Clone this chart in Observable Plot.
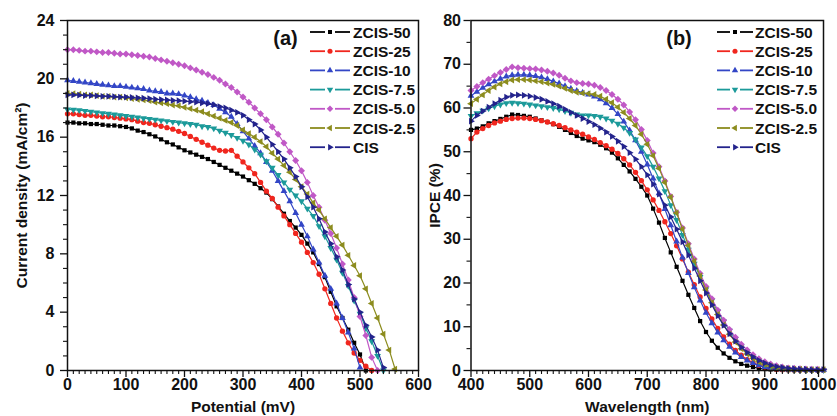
<!DOCTYPE html>
<html>
<head>
<meta charset="utf-8">
<script src="https://cdn.jsdelivr.net/npm/d3@7"></script>
<script src="https://cdn.jsdelivr.net/npm/@observablehq/plot@0.6"></script>
<style>
  html, body { margin: 0; padding: 0; background: #fff; }
  #wrap { position: relative; width: 837px; height: 416px; overflow: hidden; }
  #wrap svg { position: absolute; top: 0; }
</style>
</head>
<body>
<div id="wrap"></div>
<script>
// ---------- data ----------
const seriesNames = ["ZCIS-50", "ZCIS-25", "ZCIS-10", "ZCIS-7.5", "ZCIS-5.0", "ZCIS-2.5", "CIS"];
const seriesColors = ["#000000", "#f0261e", "#3346c6", "#1c9a9a", "#c058c6", "#8c8c1e", "#23238c"];

// Panel (a): J-V curves, potential in mV (10 mV steps)
const potential = [0,10,20,30,40,50,60,70,80,90,100,110,120,130,140,150,160,170,180,190,200,210,220,230,240,250,260,270,280,290,300,310,320,330,340,350,360,370,380,390,400,410,420,430,440,450,460,470,480,490,500,510,520,530,540,550,560];
const jZCIS50 = [17.0,17.0,16.95,16.95,16.9,16.9,16.85,16.8,16.8,16.75,16.7,16.6,16.45,16.35,16.2,16.05,15.85,15.65,15.5,15.3,15.1,14.95,14.8,14.65,14.5,14.3,14.1,13.9,13.7,13.5,13.3,13.05,12.8,12.5,12.2,11.75,11.25,10.75,10.25,9.8,9.3,8.7,8.1,7.3,6.4,5.4,4.4,3.6,2.8,1.9,1.1,0.0];
const jZCIS25 = [17.6,17.6,17.55,17.5,17.5,17.45,17.4,17.4,17.35,17.3,17.25,17.2,17.1,17.0,16.95,16.85,16.75,16.65,16.55,16.4,16.25,16.05,15.85,15.65,15.45,15.25,15.1,15.05,15.1,14.7,14.3,13.9,13.5,12.9,12.3,11.8,11.2,10.6,10.0,9.4,8.8,8.1,7.4,6.6,5.6,4.6,3.6,2.7,1.9,1.2,0.7,0.3,0.0];
const jZCIS10 = [19.9,19.85,19.8,19.75,19.7,19.65,19.6,19.55,19.5,19.5,19.45,19.4,19.35,19.3,19.2,19.15,19.1,19.0,19.0,18.95,18.85,18.75,18.6,18.5,18.35,18.2,17.95,17.7,17.4,16.9,16.4,15.9,15.4,14.9,14.3,13.7,13.0,12.3,11.6,10.8,10.0,9.2,8.3,7.4,6.5,5.6,4.6,3.6,2.6,1.5,0.2];
const jZCIS75 = [17.9,17.88,17.85,17.8,17.75,17.7,17.65,17.6,17.55,17.5,17.45,17.4,17.35,17.3,17.25,17.2,17.15,17.1,17.05,17.0,16.95,16.9,16.85,16.75,16.7,16.6,16.45,16.3,16.15,15.95,15.75,15.5,15.15,14.8,14.35,13.9,13.4,12.9,12.4,12.0,11.6,11.1,10.6,9.9,9.2,8.4,7.6,6.7,5.8,4.8,3.9,2.9,2.0,1.0,0.0];
const jZCIS50b = [22.0,22.0,21.95,21.9,21.9,21.85,21.8,21.8,21.75,21.7,21.7,21.65,21.6,21.55,21.5,21.4,21.3,21.2,21.1,21.0,20.9,20.75,20.6,20.45,20.3,20.1,19.9,19.65,19.4,19.1,18.75,18.4,18.0,17.6,17.2,16.7,16.2,15.6,15.0,14.4,13.7,12.9,12.0,11.2,10.3,9.4,8.4,7.3,6.2,5.0,3.7,2.4,0.9,0.0];
const jZCIS25b = [19.0,18.98,18.95,18.9,18.9,18.85,18.8,18.8,18.75,18.75,18.7,18.65,18.6,18.55,18.5,18.4,18.35,18.3,18.2,18.15,18.05,17.95,17.85,17.75,17.6,17.45,17.3,17.15,17.0,16.8,16.5,16.25,16.0,15.7,15.35,14.9,14.5,14.05,13.6,13.1,12.6,12.1,11.5,11.0,10.4,9.8,9.2,8.6,7.9,7.2,6.5,5.6,4.6,3.6,2.5,1.4,0.1];
const jCIS = [18.9,18.9,18.88,18.85,18.85,18.83,18.8,18.8,18.78,18.75,18.75,18.72,18.7,18.67,18.65,18.6,18.58,18.55,18.52,18.5,18.47,18.43,18.4,18.35,18.3,18.22,18.1,18.0,17.85,17.7,17.5,17.2,16.9,16.5,16.0,15.5,15.0,14.5,13.9,13.3,12.6,11.9,11.2,10.4,9.5,8.7,7.8,6.9,5.9,4.9,4.0,3.1,2.3,1.4,0.2];
const jvSeries = [jZCIS50, jZCIS25, jZCIS10, jZCIS75, jZCIS50b, jZCIS25b, jCIS];

// Panel (b): IPCE (%), wavelength in nm (10 nm steps)
const wavelength = [400,410,420,430,440,450,460,470,480,490,500,510,520,530,540,550,560,570,580,590,600,610,620,630,640,650,660,670,680,690,700,710,720,730,740,750,760,770,780,790,800,810,820,830,840,850,860,870,880,890,900,910,920,930,940,950,960,970,980,990,1000];
const qZCIS50 = [55.0,55.3,55.8,56.5,57.0,57.5,58.0,58.5,58.4,58.2,58.0,57.6,57.2,56.8,56.3,55.7,55.0,54.3,53.6,53.0,52.6,52.2,51.6,50.8,49.8,48.5,47.0,45.5,43.8,42.0,40.0,37.0,33.8,30.3,27.0,23.7,20.5,17.3,14.3,11.3,8.8,6.8,5.2,3.9,2.9,2.1,1.5,1.1,0.8,0.5,0.35,0.25,0.2,0.15,0.1,0.1,0.1,0.1,0.1,0.1,0.1];
const qZCIS25 = [53.0,54.5,55.3,56.0,56.6,57.0,57.4,57.6,57.7,57.7,57.6,57.4,57.1,56.8,56.4,56.0,55.5,55.0,54.5,54.0,53.4,52.8,52.1,51.4,50.6,49.6,48.4,47.0,45.3,43.4,41.3,39.0,36.6,34.0,31.3,28.5,25.5,22.5,19.6,16.8,14.2,11.8,9.6,7.7,6.0,4.6,3.5,2.5,1.8,1.2,0.8,0.5,0.3,0.2,0.15,0.1,0.1,0.1,0.1,0.1,0.1];
const qZCIS10 = [62.8,63.7,64.6,65.4,66.1,66.7,67.2,67.5,67.6,67.6,67.5,67.3,67.0,66.6,66.1,65.6,65.0,64.4,63.9,63.5,63.1,62.6,62.0,61.1,60.0,58.6,56.9,54.9,52.6,50.0,47.1,43.9,40.5,36.9,33.2,29.5,25.8,22.3,19.0,16.0,13.2,10.8,8.7,6.9,5.4,4.1,3.1,2.3,1.7,1.2,0.8,0.6,0.4,0.3,0.25,0.2,0.2,0.15,0.15,0.1,0.1];
const qZCIS75 = [58.2,58.8,59.4,59.9,60.4,60.8,61.1,61.2,61.1,61.0,60.8,60.6,60.4,60.2,60.0,59.7,59.3,58.9,58.5,58.3,58.3,58.2,58.0,57.6,57.1,56.4,55.5,54.3,52.8,51.0,49.0,46.6,43.9,41.0,37.8,34.4,31.0,27.6,24.4,21.4,18.6,16.0,13.5,11.2,9.1,7.2,5.5,4.1,3.0,2.1,1.4,0.9,0.6,0.4,0.3,0.2,0.2,0.1,0.1,0.1,0.1];
const qZCIS50b = [64.0,64.9,65.8,66.6,67.4,68.1,68.8,69.4,69.2,69.1,69.0,68.9,68.7,68.4,68.0,67.5,66.8,66.2,65.8,65.6,65.5,65.2,64.7,64.0,63.1,62.0,60.7,59.1,57.3,55.1,52.6,49.7,46.6,43.3,39.8,36.2,32.6,29.0,25.5,22.2,19.2,16.4,13.8,11.5,9.4,7.6,6.0,4.7,3.6,2.7,2.0,1.5,1.1,0.8,0.6,0.5,0.4,0.35,0.3,0.3,0.3];
const qZCIS25b = [61.0,62.0,63.0,64.0,64.8,65.5,66.0,66.4,66.5,66.5,66.4,66.2,66.0,65.7,65.4,65.0,64.5,64.0,63.6,63.4,63.3,63.1,62.7,62.0,61.2,60.2,59.0,57.6,56.0,54.0,51.7,49.1,46.2,43.0,39.6,36.0,32.3,28.6,25.0,21.6,18.4,15.5,12.8,10.4,8.3,6.5,5.0,3.8,2.8,2.0,1.4,1.0,0.7,0.5,0.4,0.3,0.3,0.2,0.2,0.2,0.2];
const qCIS = [57.0,58.3,59.3,60.2,61.0,61.8,62.5,62.9,63.0,62.9,62.7,62.4,62.0,61.5,61.0,60.4,59.7,59.0,58.3,57.6,56.9,56.2,55.4,54.5,53.5,52.4,51.2,49.8,48.3,46.6,44.7,42.6,40.3,37.8,35.1,32.3,29.4,26.4,23.4,20.5,17.7,15.0,12.5,10.3,8.4,6.7,5.3,4.1,3.1,2.3,1.7,1.2,0.9,0.7,0.5,0.4,0.3,0.3,0.2,0.2,0.2];
const ipceSeries = [qZCIS50, qZCIS25, qZCIS10, qZCIS75, qZCIS50b, qZCIS25b, qCIS];

// tick values
const aXTicks = [0,100,200,300,400,500,600];
const aYTicks = [0,4,8,12,16,20,24];
const bXTicks = [400,500,600,700,800,900,1000];
const bYTicks = [0,10,20,30,40,50,60,70,80];

// ---------- symbols ----------
function tri(dir) {
  return {
    draw(ctx, size) {
      const a = Math.sqrt(size * 4 / Math.sqrt(3)) * 0.9;
      const h = a * Math.sqrt(3) / 2;
      let pts;
      if (dir === "up") pts = [[0, -2*h/3], [a/2, h/3], [-a/2, h/3]];
      else if (dir === "down") pts = [[0, 2*h/3], [a/2, -h/3], [-a/2, -h/3]];
      else if (dir === "left") pts = [[-2*h/3, 0], [h/3, -a/2], [h/3, a/2]];
      else pts = [[2*h/3, 0], [-h/3, -a/2], [-h/3, a/2]];
      ctx.moveTo(pts[0][0], pts[0][1]);
      ctx.lineTo(pts[1][0], pts[1][1]);
      ctx.lineTo(pts[2][0], pts[2][1]);
      ctx.closePath();
    }
  };
}
const sq = { draw(ctx, size) { const s = Math.sqrt(size) * 0.85; ctx.rect(-s/2, -s/2, s, s); } };
const circ = { draw(ctx, size) { const r = Math.sqrt(size / Math.PI) * 0.95; ctx.moveTo(r, 0); ctx.arc(0, 0, r, 0, 2*Math.PI); } };
const diam = { draw(ctx, size) { const r = Math.sqrt(size) * 0.7; ctx.moveTo(0, -r); ctx.lineTo(r, 0); ctx.lineTo(0, r); ctx.lineTo(-r, 0); ctx.closePath(); } };
const seriesSymbols = [sq, circ, tri("up"), tri("down"), diam, tri("left"), tri("right")];

const FONT = "'Liberation Sans', Arial, Helvetica, sans-serif";

function seriesMarks(xs, ys) {
  const marks = [];
  ys.forEach((vals, k) => {
    const rows = vals.map((v, i) => ({x: xs[i], y: v}));
    marks.push(Plot.line(rows, {x: "x", y: "y", stroke: seriesColors[k], strokeWidth: 1.2}));
    marks.push(Plot.dot(rows, {x: "x", y: "y", fill: seriesColors[k], stroke: "none", r: 2.8, symbol: seriesSymbols[k]}));
  });
  return marks;
}

function addLegend(svg, x0, x1, tx) {
  const g = d3.select(svg).append("g")
    .attr("font-family", FONT).attr("font-weight", "bold").attr("font-size", 15.5)
    .attr("text-anchor", "start");
  const mid = (x0 + x1) / 2;
  seriesNames.forEach((name, k) => {
    const y = 32 + k * 19.2;
    g.append("line").attr("x1", x0).attr("x2", mid - 5).attr("y1", y).attr("y2", y).attr("stroke", seriesColors[k]).attr("stroke-width", 1.8);
    g.append("line").attr("x1", mid + 5).attr("x2", x1).attr("y1", y).attr("y2", y).attr("stroke", seriesColors[k]).attr("stroke-width", 1.8);
    g.append("path").attr("transform", `translate(${mid},${y})`).attr("d", d3.symbol(seriesSymbols[k], 22)()).attr("fill", seriesColors[k]);
    g.append("text").attr("x", tx).attr("y", y).attr("dy", "0.36em").attr("text-anchor", "start").attr("fill", "#111").text(name);
  });
}

function panel({xs, ys, xDomain, yDomain, xTicks, yTicks, xMinorStep, yMinorStep, xLabel, yLabel, tag, width, marginLeft, marginRight, yPad, yTitleDx, tagDx, lastDx}) {
  const xMinor = d3.range(xDomain[0], xDomain[1] + 1e-9, xMinorStep).filter(v => !xTicks.includes(v));
  const yMinor = d3.range(yDomain[0], yDomain[1] + 1e-9, yMinorStep).filter(v => !yTicks.includes(v));
  const xMain = xTicks.slice(0, -1);
  const xLast = xTicks.slice(-1);
  return Plot.plot({
    width, height: 416,
    marginLeft, marginRight, marginTop: 20, marginBottom: 46,
    x: {domain: xDomain},
    y: {domain: yDomain},
    style: {fontFamily: FONT, fontSize: "16px", fontWeight: "bold", color: "#111", background: "transparent", overflow: "visible"},
    marks: [
      ...seriesMarks(xs, ys),
      Plot.frame({stroke: "#111", strokeWidth: 1.5}),
      Plot.axisX(xMain, {tickSize: 7, tickPadding: 1, tickFormat: d => String(d), label: null, strokeWidth: 1.3}),
      Plot.axisX(xLast, {tickSize: 7, tickPadding: 1, tickFormat: d => String(d), label: null, strokeWidth: 1.3, dx: lastDx}),
      Plot.axisX(xMinor, {tickSize: 4, tickFormat: () => "", label: null, strokeWidth: 1.1}),
      Plot.axisY(yTicks, {tickSize: 7, tickPadding: yPad, tickFormat: d => String(d), label: null, strokeWidth: 1.3}),
      Plot.axisY(yMinor, {tickSize: 4, tickFormat: () => "", label: null, strokeWidth: 1.1}),
      Plot.text([xLabel], {text: d => d, frameAnchor: "bottom", textAnchor: "middle", lineAnchor: "middle", dy: 37, fontSize: 15.5, fontWeight: "bold", fill: "#111"}),
      Plot.text([yLabel], {text: d => d, frameAnchor: "left", textAnchor: "middle", lineAnchor: "middle", dx: yTitleDx, rotate: -90, fontSize: 15.5, fontWeight: "bold", fill: "#111"}),
      Plot.text([tag], {text: d => d, frameAnchor: "top-left", textAnchor: "middle", lineAnchor: "middle", dx: tagDx, dy: 18, fontSize: 20, fontWeight: "bold", fill: "#111"})
    ]
  });
}

const svgA = panel({
  xs: potential, ys: jvSeries, xDomain: [0, 600], yDomain: [0, 24],
  xTicks: aXTicks, yTicks: aYTicks, xMinorStep: 10, yMinorStep: 1,
  xLabel: "Potential (mV)", yLabel: "Current density (mA/cm²)", tag: "(a)",
  width: 432, marginLeft: 67, marginRight: 14, yPad: 6, yTitleDx: -45, tagDx: 218, lastDx: 0
});
addLegend(svgA, 310, 350, 353);

const svgB = panel({
  xs: wavelength, ys: ipceSeries, xDomain: [400, 1000], yDomain: [0, 80],
  xTicks: bXTicks, yTicks: bYTicks, xMinorStep: 10, yMinorStep: 5,
  xLabel: "Wavelength (nm)", yLabel: "IPCE (%)", tag: "(b)",
  width: 417, marginLeft: 50.5, marginRight: 14, yPad: 3, yTitleDx: -35.5, tagDx: 208, lastDx: -5
});
addLegend(svgB, 297, 333, 335);

const wrap = document.getElementById("wrap");
svgA.style.left = "0px";
svgB.style.left = "420px";
wrap.appendChild(svgA);
wrap.appendChild(svgB);
</script>
</body>
</html>
